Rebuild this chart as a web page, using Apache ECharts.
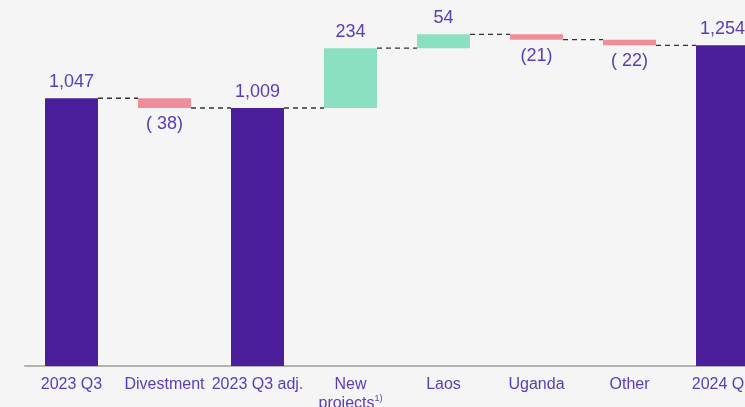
<!DOCTYPE html>
<html>
<head>
<meta charset="utf-8">
<script src="https://cdn.jsdelivr.net/npm/echarts@6/dist/echarts.min.js"></script>
<style>
  html, body { margin: 0; padding: 0; background: #f5f5f5; overflow: hidden; }
  /* the source chart is cut off on the right, so the canvas runs past the window */
  #chart { width: 770px; height: 407px; }
</style>
</head>
<body>
<div id="chart"></div>
<script>
  // waterfall data
  let categories = ['2023 Q3', 'Divestment', '2023 Q3 adj.', 'New\nprojects{sup|1)}', 'Laos', 'Uganda', 'Other', '2024 Q3']
  let values = [1047, -38, 1009, 234, 54, -21, -22, 1254]
  let isTotal = [true, false, true, false, false, false, false, true]
  let valueLabels = ['1,047', '( 38)', '1,009', '234', '54', '(21)', '( 22)', '1,254']

  const purple = '#4b1f9c'
  const green = '#8be0c1'
  const pink = '#ee8e9a'
  const textPurple = '#5b3db3'
  const barRatio = 0.57

  let base = []
  let heights = []
  let levels = []
  let running = 0
  values.forEach(function (v, i) {
    if (isTotal[i]) {
      running = v
      base.push(0)
      heights.push({ value: v, itemStyle: { color: purple }, label: { position: 'top' } })
    } else if (v >= 0) {
      base.push(running)
      heights.push({ value: v, itemStyle: { color: green }, label: { position: 'top' } })
      running += v
    } else {
      running += v
      base.push(running)
      heights.push({ value: -v, itemStyle: { color: pink }, label: { position: 'bottom' } })
    }
    levels.push(running)
  })

  let connectors = []
  for (let i = 0; i < levels.length - 1; i++) {
    connectors.push([i, levels[i]])
  }

  const option = {
    backgroundColor: '#f5f5f5',
    animation: false,
    grid: {
      left: 25,
      right: 1,
      top: 8,
      bottom: 41,
      outerBoundsMode: 'none',
      containLabel: false
    },
    xAxis: {
      type: 'category',
      data: categories,
      axisLine: { lineStyle: { color: '#b3b3b3', width: 2 } },
      axisTick: { show: false },
      axisLabel: {
        interval: 0,
        margin: 9,
        color: textPurple,
        fontFamily: 'Liberation Sans, Arial, sans-serif',
        fontSize: 16,
        lineHeight: 19,
        rich: {
          sup: {
            fontSize: 9,
            color: textPurple,
            verticalAlign: 'top',
            padding: [0, 0, 8, 0]
          }
        }
      }
    },
    yAxis: {
      type: 'value',
      min: 0,
      max: 1400,
      show: false
    },
    series: [
      {
        type: 'bar',
        stack: 'wf',
        silent: true,
        barWidth: (barRatio * 100) + '%',
        itemStyle: { color: 'transparent' },
        data: base
      },
      {
        type: 'bar',
        stack: 'wf',
        barWidth: (barRatio * 100) + '%',
        label: {
          show: true,
          distance: 7,
          color: textPurple,
          fontFamily: 'Liberation Sans, Arial, sans-serif',
          fontSize: 18,
          formatter: function (p) {
            return valueLabels[p.dataIndex]
          }
        },
        data: heights
      },
      {
        // dashed connectors between neighbouring bars
        type: 'custom',
        silent: true,
        z: 1,
        renderItem: function (params, api) {
          let pt = api.coord([api.value(0), api.value(1)])
          let band = api.size([1, 0])[0]
          let half = band * barRatio / 2
          return {
            type: 'line',
            shape: { x1: pt[0] + half, y1: pt[1], x2: pt[0] + band - half, y2: pt[1] },
            style: { stroke: '#333', lineWidth: 1.3, lineDash: [5, 4] }
          }
        },
        data: connectors
      }
    ]
  }

  let eChart = echarts.init(document.getElementById('chart'), null, { renderer: 'canvas' })
  eChart.setOption(option)
</script>
</body>
</html>
